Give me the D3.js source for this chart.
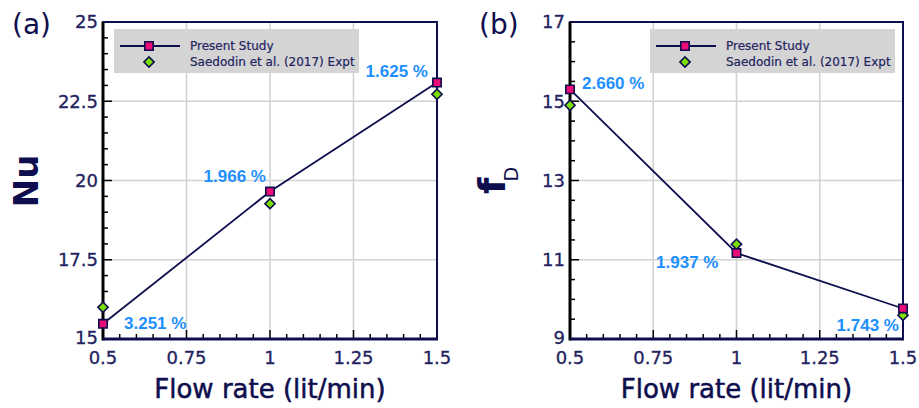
<!DOCTYPE html>
<html>
<head>
<meta charset="utf-8">
<script src="https://cdn.jsdelivr.net/npm/d3@7"></script>
<style>
  html, body { margin: 0; padding: 0; background: #fff; }
  svg { display: block; font-family: "DejaVu Sans", Verdana, sans-serif; }
</style>
</head>
<body>
<svg id="chart" width="919" height="408"></svg>
<script>
// ---- data ----
const flowRate = [0.5, 1.0, 1.5];
const xTicks = [0.5, 0.75, 1, 1.25, 1.5];
const xTickLabels = ["0.5", "0.75", "1", "1.25", "1.5"];

const nuPresent = [15.48, 19.65, 23.09];
const nuExpt = [16.0, 19.27, 22.72];
const nuError = ["3.251 %", "1.966 %", "1.625 %"];
const nuTicks = [15, 17.5, 20, 22.5, 25];
const nuTickLabels = ["15", "17.5", "20", "22.5", "25"];

const fdPresent = [15.30, 11.17, 9.77];
const fdExpt = [14.9, 11.39, 9.6];
const fdError = ["2.660 %", "1.937 %", "1.743 %"];
const fdTicks = [9, 11, 13, 15, 17];
const fdTickLabels = ["9", "11", "13", "15", "17"];

const seriesNames = ["Present Study", "Saedodin et al. (2017) Expt"];

// ---- styling ----
const NAVY = "#0e0e4e";
const TEXT = "#23235f";
const GRID = "#d2d2d2";
const SQUARE_FILL = "#ec0c78";
const DIAMOND_FILL = "#7be000";
const ERR_COLOR = "#1e8fff";

const svg = d3.select("#chart");

function drawPanel(cfg) {
  const g = svg.append("g");
  const x = d3.scaleLinear().domain([0.5, 1.5]).range([cfg.left, cfg.right]);
  const y = d3.scaleLinear().domain(cfg.yDomain).range([cfg.bottom, cfg.top]);

  // grid lines at major ticks
  g.append("g").selectAll("line.vg")
    .data(xTicks.slice(1, -1)).join("line")
    .attr("x1", d => x(d)).attr("x2", d => x(d))
    .attr("y1", cfg.top).attr("y2", cfg.bottom)
    .attr("stroke", GRID).attr("stroke-width", 1.6);
  g.append("g").selectAll("line.hg")
    .data(cfg.yTicks.slice(1, -1)).join("line")
    .attr("x1", cfg.left).attr("x2", cfg.right)
    .attr("y1", d => y(d)).attr("y2", d => y(d))
    .attr("stroke", GRID).attr("stroke-width", 1.6);

  // inward tick marks: major + minor
  const xMinor = d3.range(0.5, 1.5001, 0.05);
  g.append("g").selectAll("line")
    .data(xMinor).join("line")
    .attr("x1", d => x(d)).attr("x2", d => x(d))
    .attr("y1", cfg.bottom)
    .attr("y2", d => cfg.bottom - (Math.abs((d * 4) - Math.round(d * 4)) < 1e-6 ? 9 : 5))
    .attr("stroke", "#000").attr("stroke-width", 1.5);
  const yMinor = d3.range(cfg.yDomain[0], cfg.yDomain[1] + 1e-6, cfg.yMinorStep);
  g.append("g").selectAll("line")
    .data(yMinor).join("line")
    .attr("y1", d => y(d)).attr("y2", d => y(d))
    .attr("x1", cfg.left)
    .attr("x2", d => cfg.left + (cfg.yTicks.some(t => Math.abs(t - d) < 1e-6) ? 9 : 5))
    .attr("stroke", "#000").attr("stroke-width", 1.5);

  // frame
  g.append("rect")
    .attr("x", cfg.left).attr("y", cfg.top)
    .attr("width", cfg.right - cfg.left).attr("height", cfg.bottom - cfg.top)
    .attr("fill", "none").attr("stroke", NAVY).attr("stroke-width", 2);
  g.append("line")
    .attr("x1", cfg.left).attr("x2", cfg.left)
    .attr("y1", cfg.top).attr("y2", cfg.bottom + 1.5)
    .attr("stroke", "#000").attr("stroke-width", 3);
  g.append("line")
    .attr("x1", cfg.left).attr("x2", cfg.right + 1)
    .attr("y1", cfg.bottom).attr("y2", cfg.bottom)
    .attr("stroke", NAVY).attr("stroke-width", 3);

  // tick labels
  g.append("g").selectAll("text")
    .data(xTicks).join("text")
    .attr("x", d => x(d)).attr("y", cfg.bottom + 25)
    .attr("text-anchor", "middle")
    .attr("font-size", 18).attr("fill", TEXT)
    .attr("stroke", TEXT).attr("stroke-width", 0.3)
    .text((d, i) => xTickLabels[i]);
  g.append("g").selectAll("text")
    .data(cfg.yTicks).join("text")
    .attr("x", cfg.left - cfg.yLabelGap).attr("y", (d, i) => y(d) - (i === 0 ? 1 : 0))
    .attr("dy", "0.36em")
    .attr("text-anchor", "end")
    .attr("font-size", 18).attr("fill", TEXT)
    .attr("stroke", TEXT).attr("stroke-width", 0.3)
    .text((d, i) => cfg.yTickLabels[i]);

  // axis titles
  g.append("text")
    .attr("x", (cfg.left + cfg.right) / 2).attr("y", 398)
    .attr("text-anchor", "middle")
    .attr("font-size", 26).attr("fill", NAVY)
    .attr("stroke", NAVY).attr("stroke-width", 0.5)
    .text("Flow rate (lit/min)");
  cfg.yTitle(g);

  // panel tag
  g.append("text")
    .attr("x", cfg.tagX).attr("y", 34)
    .attr("font-size", 28).attr("fill", NAVY)
    .text(cfg.tag);

  // series line
  const pts = flowRate.map((f, i) => [x(f), y(cfg.present[i])]);
  g.append("path")
    .attr("d", d3.line()(pts))
    .attr("fill", "none").attr("stroke", NAVY).attr("stroke-width", 1.8);

  // experiment diamonds
  const diamond = d3.symbol().type(d3.symbolSquare).size(52);
  g.append("g").selectAll("path")
    .data(flowRate).join("path")
    .attr("d", diamond)
    .attr("transform", (d, i) => `translate(${x(d)},${y(cfg.expt[i])}) rotate(45)`)
    .attr("fill", DIAMOND_FILL).attr("stroke", NAVY).attr("stroke-width", 1.6);

  // present-study squares
  const square = d3.symbol().type(d3.symbolSquare).size(70);
  g.append("g").selectAll("path")
    .data(flowRate).join("path")
    .attr("d", square)
    .attr("transform", (d, i) => `translate(${x(d)},${y(cfg.present[i])})`)
    .attr("fill", SQUARE_FILL).attr("stroke", NAVY).attr("stroke-width", 1.6);

  // percentage-difference labels next to each present-study point
  g.append("g").selectAll("text")
    .data(flowRate).join("text")
    .attr("x", (d, i) => x(d) + cfg.errOffsets[i][0])
    .attr("y", (d, i) => y(cfg.present[i]) + cfg.errOffsets[i][1])
    .attr("text-anchor", (d, i) => cfg.errOffsets[i][2])
    .attr("font-family", "'Liberation Sans', Arial, sans-serif")
    .attr("font-weight", "bold").attr("font-size", 17)
    .attr("fill", ERR_COLOR)
    .text((d, i) => cfg.errors[i]);

  // legend
  const lg = g.append("g").attr("transform", `translate(${cfg.legendX},29)`);
  lg.append("rect").attr("width", 245).attr("height", 44).attr("fill", "#d4d4d4");
  lg.append("line").attr("x1", 6).attr("x2", 66).attr("y1", 17).attr("y2", 17)
    .attr("stroke", NAVY).attr("stroke-width", 1.8);
  lg.append("path").attr("d", square)
    .attr("transform", "translate(35,17)")
    .attr("fill", SQUARE_FILL).attr("stroke", NAVY).attr("stroke-width", 1.6);
  lg.append("path").attr("d", diamond)
    .attr("transform", "translate(35,33) rotate(45)")
    .attr("fill", DIAMOND_FILL).attr("stroke", NAVY).attr("stroke-width", 1.6);
  lg.selectAll("text.leg").data(seriesNames).join("text")
    .attr("x", 76).attr("y", (d, i) => 21 + i * 16)
    .attr("font-size", 12).attr("fill", TEXT)
    .attr("stroke", TEXT).attr("stroke-width", 0.2)
    .text(d => d);
}

drawPanel({
  tag: "(a)", tagX: 12,
  left: 103, right: 437, top: 22, bottom: 339,
  yDomain: [15, 25], yTicks: nuTicks, yTickLabels: nuTickLabels, yMinorStep: 0.5,
  yLabelGap: 5,
  present: nuPresent, expt: nuExpt, errors: nuError,
  errOffsets: [[21, 5, "start"], [-4, -10, "end"], [-9, -6, "end"]],
  legendX: 114,
  yTitle: g => g.append("text")
    .attr("transform", "translate(38,181) rotate(-90)")
    .attr("text-anchor", "middle")
    .attr("font-size", 34).attr("font-weight", "bold").attr("fill", NAVY)
    .text("Nu")
});

drawPanel({
  tag: "(b)", tagX: 479,
  left: 570, right: 903, top: 22, bottom: 339,
  yDomain: [9, 17], yTicks: fdTicks, yTickLabels: fdTickLabels, yMinorStep: 0.5,
  yLabelGap: 5,
  present: fdPresent, expt: fdExpt, errors: fdError,
  errOffsets: [[12, 0, "start"], [-18, 15, "end"], [-4, 23, "end"]],
  legendX: 650,
  yTitle: g => {
    const t = g.append("text")
      .attr("transform", "translate(505,194) rotate(-90)")
      .attr("fill", NAVY);
    t.append("tspan").attr("font-size", 38).attr("font-weight", "bold").text("f");
    t.append("tspan").attr("font-size", 19).attr("dy", 13).attr("dx", -4).text("D");
  }
});
</script>
</body>
</html>
